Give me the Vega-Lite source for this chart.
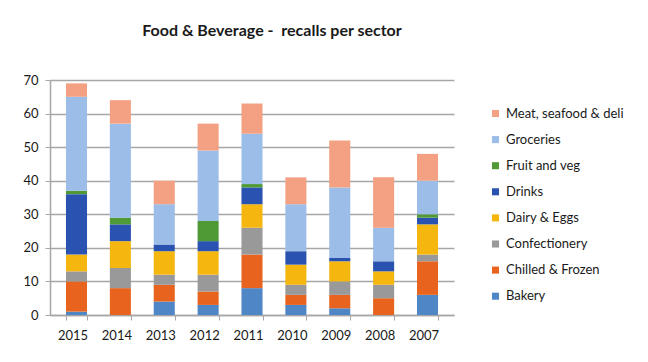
{
  "$schema": "https://vega.github.io/schema/vega-lite/v6.json",
  "autosize": {"type": "none"},
  "width": 404,
  "height": 235,
  "padding": {"left": 50, "top": 80, "right": 194, "bottom": 47},
  "background": "white",
  "title": {
    "text": "Food & Beverage -\u00a0 recalls per sector",
    "font": "Lato",
    "fontSize": 16,
    "fontWeight": "bold",
    "color": "#1a1a1a",
    "offset": 35,
    "dx": 20
  },
  "data": {
    "values": [
      {"year": "2015", "sector": "Bakery", "recalls": 1},
      {"year": "2015", "sector": "Chilled & Frozen", "recalls": 9},
      {"year": "2015", "sector": "Confectionery", "recalls": 3},
      {"year": "2015", "sector": "Dairy & Eggs", "recalls": 5},
      {"year": "2015", "sector": "Drinks", "recalls": 18},
      {"year": "2015", "sector": "Fruit and veg", "recalls": 1},
      {"year": "2015", "sector": "Groceries", "recalls": 28},
      {"year": "2015", "sector": "Meat, seafood & deli", "recalls": 4},
      {"year": "2014", "sector": "Bakery", "recalls": 0},
      {"year": "2014", "sector": "Chilled & Frozen", "recalls": 8},
      {"year": "2014", "sector": "Confectionery", "recalls": 6},
      {"year": "2014", "sector": "Dairy & Eggs", "recalls": 8},
      {"year": "2014", "sector": "Drinks", "recalls": 5},
      {"year": "2014", "sector": "Fruit and veg", "recalls": 2},
      {"year": "2014", "sector": "Groceries", "recalls": 28},
      {"year": "2014", "sector": "Meat, seafood & deli", "recalls": 7},
      {"year": "2013", "sector": "Bakery", "recalls": 4},
      {"year": "2013", "sector": "Chilled & Frozen", "recalls": 5},
      {"year": "2013", "sector": "Confectionery", "recalls": 3},
      {"year": "2013", "sector": "Dairy & Eggs", "recalls": 7},
      {"year": "2013", "sector": "Drinks", "recalls": 2},
      {"year": "2013", "sector": "Fruit and veg", "recalls": 0},
      {"year": "2013", "sector": "Groceries", "recalls": 12},
      {"year": "2013", "sector": "Meat, seafood & deli", "recalls": 7},
      {"year": "2012", "sector": "Bakery", "recalls": 3},
      {"year": "2012", "sector": "Chilled & Frozen", "recalls": 4},
      {"year": "2012", "sector": "Confectionery", "recalls": 5},
      {"year": "2012", "sector": "Dairy & Eggs", "recalls": 7},
      {"year": "2012", "sector": "Drinks", "recalls": 3},
      {"year": "2012", "sector": "Fruit and veg", "recalls": 6},
      {"year": "2012", "sector": "Groceries", "recalls": 21},
      {"year": "2012", "sector": "Meat, seafood & deli", "recalls": 8},
      {"year": "2011", "sector": "Bakery", "recalls": 8},
      {"year": "2011", "sector": "Chilled & Frozen", "recalls": 10},
      {"year": "2011", "sector": "Confectionery", "recalls": 8},
      {"year": "2011", "sector": "Dairy & Eggs", "recalls": 7},
      {"year": "2011", "sector": "Drinks", "recalls": 5},
      {"year": "2011", "sector": "Fruit and veg", "recalls": 1},
      {"year": "2011", "sector": "Groceries", "recalls": 15},
      {"year": "2011", "sector": "Meat, seafood & deli", "recalls": 9},
      {"year": "2010", "sector": "Bakery", "recalls": 3},
      {"year": "2010", "sector": "Chilled & Frozen", "recalls": 3},
      {"year": "2010", "sector": "Confectionery", "recalls": 3},
      {"year": "2010", "sector": "Dairy & Eggs", "recalls": 6},
      {"year": "2010", "sector": "Drinks", "recalls": 4},
      {"year": "2010", "sector": "Fruit and veg", "recalls": 0},
      {"year": "2010", "sector": "Groceries", "recalls": 14},
      {"year": "2010", "sector": "Meat, seafood & deli", "recalls": 8},
      {"year": "2009", "sector": "Bakery", "recalls": 2},
      {"year": "2009", "sector": "Chilled & Frozen", "recalls": 4},
      {"year": "2009", "sector": "Confectionery", "recalls": 4},
      {"year": "2009", "sector": "Dairy & Eggs", "recalls": 6},
      {"year": "2009", "sector": "Drinks", "recalls": 1},
      {"year": "2009", "sector": "Fruit and veg", "recalls": 0},
      {"year": "2009", "sector": "Groceries", "recalls": 21},
      {"year": "2009", "sector": "Meat, seafood & deli", "recalls": 14},
      {"year": "2008", "sector": "Bakery", "recalls": 0},
      {"year": "2008", "sector": "Chilled & Frozen", "recalls": 5},
      {"year": "2008", "sector": "Confectionery", "recalls": 4},
      {"year": "2008", "sector": "Dairy & Eggs", "recalls": 4},
      {"year": "2008", "sector": "Drinks", "recalls": 3},
      {"year": "2008", "sector": "Fruit and veg", "recalls": 0},
      {"year": "2008", "sector": "Groceries", "recalls": 10},
      {"year": "2008", "sector": "Meat, seafood & deli", "recalls": 15},
      {"year": "2007", "sector": "Bakery", "recalls": 6},
      {"year": "2007", "sector": "Chilled & Frozen", "recalls": 10},
      {"year": "2007", "sector": "Confectionery", "recalls": 2},
      {"year": "2007", "sector": "Dairy & Eggs", "recalls": 9},
      {"year": "2007", "sector": "Drinks", "recalls": 2},
      {"year": "2007", "sector": "Fruit and veg", "recalls": 1},
      {"year": "2007", "sector": "Groceries", "recalls": 10},
      {"year": "2007", "sector": "Meat, seafood & deli", "recalls": 8}
    ]
  },
  "mark": {"type": "bar"},
  "encoding": {
    "x": {
      "field": "year",
      "type": "ordinal",
      "sort": "descending",
      "scale": {"paddingInner": 0.52, "paddingOuter": 0.364},
      "axis": {
        "title": null,
        "labelAngle": 0,
        "labelFont": "Lato",
        "labelFontSize": 13,
        "labelColor": "#1a1a1a",
        "labelOffset": -4,
        "labelPadding": 9,
        "domainColor": "#a6a6a6",
        "domainWidth": 1.5,
        "tickColor": "#a6a6a6",
        "tickSize": 5,
        "tickBand": "extent",
        "grid": false
      }
    },
    "y": {
      "field": "recalls",
      "type": "quantitative",
      "aggregate": "sum",
      "stack": "zero",
      "scale": {"domain": [0, 70], "nice": false},
      "axis": {
        "title": null,
        "values": [0, 10, 20, 30, 40, 50, 60, 70],
        "labelFont": "Lato",
        "labelFontSize": 13,
        "labelColor": "#1a1a1a",
        "labelPadding": 7,
        "domainColor": "#a6a6a6",
        "domainWidth": 1.5,
        "tickColor": "#a6a6a6",
        "tickSize": 5,
        "gridColor": "#a6a6a6",
        "gridWidth": 1.5
      }
    },
    "color": {
      "field": "sector",
      "type": "nominal",
      "sort": "descending",
      "scale": {
        "domain": ["Meat, seafood & deli", "Groceries", "Fruit and veg", "Drinks", "Dairy & Eggs", "Confectionery", "Chilled & Frozen", "Bakery"],
        "range": ["#f3a182", "#9bbde8", "#4f9a35", "#2a52b0", "#f5b70f", "#999999", "#e8641e", "#4f87c6"]
      },
      "legend": {
        "title": null,
        "orient": "none",
        "legendX": 439,
        "legendY": 27,
        "padding": 0,
        "symbolType": "square",
        "symbolSize": 50,
        "symbolStrokeWidth": 0,
        "labelFont": "Lato",
        "labelFontSize": 13,
        "labelColor": "#1a1a1a",
        "labelOffset": 4,
        "rowPadding": 12.1
      }
    },
    "order": {"field": "sector", "sort": "ascending"}
  },
  "config": {
    "view": {"stroke": null}
  }
}
